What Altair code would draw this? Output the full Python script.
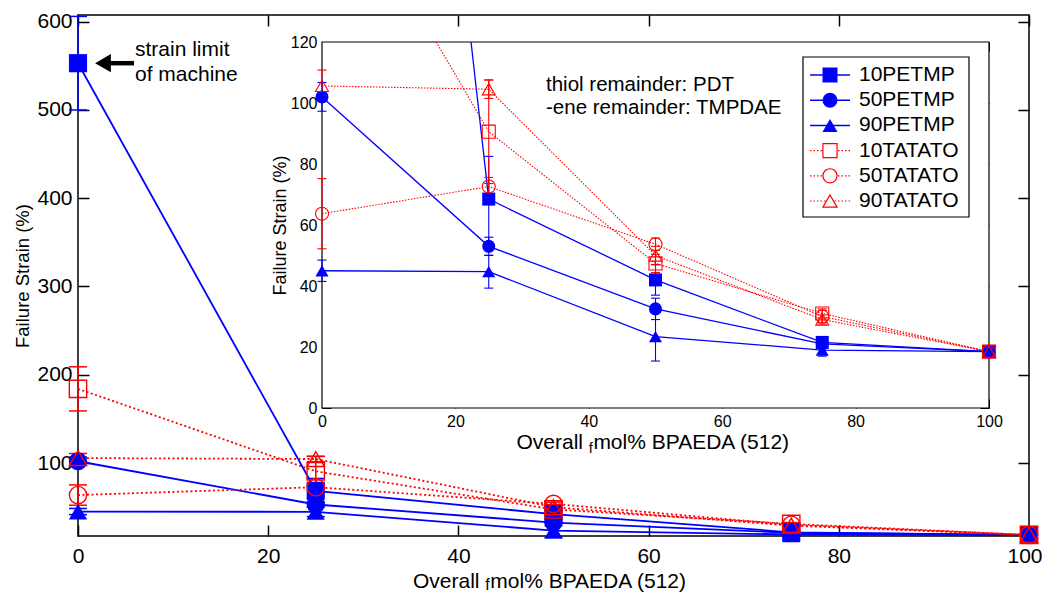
import altair as alt
import pandas as pd

# ---------------- data ----------------
x_vals = [0, 25, 50, 75, 100]
series_names = ["10PETMP", "50PETMP", "90PETMP", "10TATATO", "50TATATO", "90TATATO"]
series_group = ["PETMP", "PETMP", "PETMP", "TATATO", "TATATO", "TATATO"]
series_shape = ["square", "circle", "triangle-up", "square", "circle", "triangle-up"]

strain_10PETMP = [553, 68.5, 42, 21.5, 18.5]
strain_50PETMP = [102, 53, 32.5, 21, 18.5]
strain_90PETMP = [45, 44.7, 23.4, 19, 18.5]
strain_10TATATO = [184, 90.6, 47.4, 31, 18.5]
strain_50TATATO = [63.7, 72.6, 53.7, 30, 18.5]
strain_90TATATO = [105.6, 104.5, 50, 29, 18.5]

err_10PETMP = [53, 14, 5, 1.5, 1.5]
err_50PETMP = [4.7, 3, 3.5, 1.5, 1.5]
err_90PETMP = [3.5, 5.4, 8, 2, 1.5]
err_10TATATO = [25, 17, 3, 1.5, 1.5]
err_50TATATO = [11.5, 3, 2, 2, 1.5]
err_90TATATO = [5.2, 3, 3, 1.5, 1.5]

x_ticks = [0, 20, 40, 60, 80, 100]
main_y_ticks = [100, 200, 300, 400, 500, 600]
inset_y_ticks = [0, 20, 40, 60, 80, 100, 120]
x_domain = [0, 100]
main_y_domain = [17.3, 607.6]
inset_y_domain = [0, 120]

x_title_parts = ["Overall", "f", "mol% BPAEDA (512)"]   # "f" is a subscript
y_title = "Failure Strain (%)"
note_lines = ["thiol remainder: PDT", "-ene remainder: TMPDAE"]
arrow_lines = ["strain limit", "of machine"]

all_vals = [strain_10PETMP, strain_50PETMP, strain_90PETMP,
            strain_10TATATO, strain_50TATATO, strain_90TATATO]
all_errs = [err_10PETMP, err_50PETMP, err_90PETMP,
            err_10TATATO, err_50TATATO, err_90TATATO]

# ---------------- tables ----------------
rows = []
for s, g, vals, errs in zip(series_names, series_group, all_vals, all_errs):
    for xv, v, e in zip(x_vals, vals, errs):
        rows.append({"series": s, "grp": g, "x": xv, "val": v, "lo": v - e, "hi": v + e})
df = pd.DataFrame(rows)
df["hi_main"] = df["hi"].clip(upper=main_y_domain[1])

caps = []
for _, r in df.iterrows():
    caps.append({"series": r.series, "grp": r.grp, "x": r.x, "yc": r.lo, "base": r.val})
    caps.append({"series": r.series, "grp": r.grp, "x": r.x, "yc": r.hi, "base": r.val})
caps = pd.DataFrame(caps)
caps_main = caps[caps["yc"] <= main_y_domain[1]]
caps_in = caps[(caps["base"] <= inset_y_domain[1]) & (caps["yc"] <= inset_y_domain[1])]

df_in = df[df["val"] <= inset_y_domain[1]].copy()
df_in["hi_in"] = df_in["hi"].clip(upper=inset_y_domain[1])


def clip_poly(xs, ys, top):
    out = []
    for i in range(len(xs)):
        if ys[i] <= top:
            if i > 0 and ys[i - 1] > top:
                t = (ys[i - 1] - top) / (ys[i - 1] - ys[i])
                out.append((xs[i - 1] + t * (xs[i] - xs[i - 1]), top))
            out.append((xs[i], ys[i]))
        elif i > 0 and ys[i - 1] <= top:
            t = (top - ys[i - 1]) / (ys[i] - ys[i - 1])
            out.append((xs[i - 1] + t * (xs[i] - xs[i - 1]), top))
    return out


lrows = []
for s, g, vals in zip(series_names, series_group, all_vals):
    for xv, yv in clip_poly(x_vals, vals, inset_y_domain[1]):
        lrows.append({"series": s, "grp": g, "x": xv, "val": yv})
lines_in = pd.DataFrame(lrows)

legend_df = pd.DataFrame({"series": series_names, "grp": series_group,
                          "row": list(range(len(series_names)))})
box_df = pd.DataFrame({"x0": [x_domain[0]], "x1": [x_domain[1]],
                       "y0": [inset_y_domain[0]], "y1": [inset_y_domain[1]]})
anchor_df = df[(df["series"] == "10PETMP") & (df["x"] == x_vals[0])]
dummy = pd.DataFrame({"a": [0]})

# ---------------- styling ----------------
FONT = "Liberation Sans"
BLUE = "#0000ff"
RED = "#ff0000"
W, H = 951, 521

MX = alt.Scale(domain=x_domain, range=[0, W], nice=False, zero=False)
MY = alt.Scale(domain=main_y_domain, range=[H, 0], nice=False, zero=False)
IX = alt.Scale(domain=x_domain, range=[244, 911], nice=False, zero=False)
IY = alt.Scale(domain=inset_y_domain, range=[393, 27], nice=False, zero=False)
LY = alt.Scale(domain=[0, 5], range=[60, 186], nice=False, zero=False)
color_scale = alt.Scale(domain=["PETMP", "TATATO"], range=[BLUE, RED])
shape_scale = alt.Scale(domain=series_names, range=series_shape)


def tick_axis(orient, offset, size, values, width):
    return alt.Axis(orient=orient, offset=offset, tickSize=size, values=values,
                    labels=False, domain=False, title=None, ticks=True,
                    tickColor="black", tickWidth=width, grid=False)


last_x = x_ticks[-1]
main_x_axis = alt.Axis(orient="bottom", values=x_ticks, ticks=False, domain=False,
                       labelFontSize=21, labelPadding=9, labelFlush=False,
                       labelAlign=alt.condition(f"datum.value == {last_x}",
                                                alt.value("right"), alt.value("center")),
                       labelOffset=alt.condition(f"datum.value == {last_x}",
                                                 alt.value(13), alt.value(0)),
                       title=None, grid=False)
main_y_axis = alt.Axis(orient="left", values=main_y_ticks, ticks=False, domain=False,
                       labelFontSize=21, labelPadding=6, labelFlush=False,
                       title=y_title, titleFontSize=18.5, titlePadding=4,
                       titleFontWeight="normal", grid=False)
inset_x_axis = alt.Axis(orient="bottom", offset=-(H - 393), values=x_ticks, ticks=False,
                        domain=False, labelFontSize=16, labelPadding=5, labelFlush=False,
                        title=None, grid=False)
inset_y_axis = alt.Axis(orient="left", offset=-244, values=inset_y_ticks, ticks=False,
                        domain=False, labelFontSize=16, labelPadding=5, labelFlush=False,
                        title=y_title, titleFontSize=18, titlePadding=1,
                        titleFontWeight="normal", grid=False)

def mx(field="x:Q", axis=None):
    return alt.X(field, scale=MX, axis=axis)

def my(field="val:Q", axis=None):
    return alt.Y(field, scale=MY, axis=axis)

def ix(field="x:Q", axis=None):
    return alt.X(field, scale=IX, axis=axis)

def iy(field="val:Q", axis=None):
    return alt.Y(field, scale=IY, axis=axis)

col = alt.Color("grp:N", scale=color_scale, legend=None)
shp = alt.Shape("series:N", scale=shape_scale, legend=None)

blue_df = df[df["grp"] == "PETMP"]
red_df = df[df["grp"] == "TATATO"]


def xtitle(left, base, big, small, small_drop):
    """Axis title with a subscript 'f', placed as three text pieces."""
    w_overall = 3.445 * big          # "Overall " width in Arial-metric em units
    w_f = 0.278 * small
    parts = []
    specs = [(x_title_parts[0], left, base, big),
             (x_title_parts[1], left + w_overall, base + small_drop, small),
             (x_title_parts[2], left + w_overall + w_f + 0.5, base, big)]
    for txt, xx, yy, fs in specs:
        parts.append(alt.Chart(dummy).mark_text(text=txt, align="left", baseline="alphabetic",
                                                font=FONT, fontSize=fs, color="black").encode(
            x=alt.value(xx), y=alt.value(yy)))
    return parts


# ---------------- main plot ----------------
main_lines_blue = alt.Chart(blue_df).mark_line(color=BLUE, strokeWidth=1.8).encode(
    x=mx(axis=main_x_axis), y=my(axis=main_y_axis), detail="series:N")
main_lines_red = alt.Chart(red_df).mark_line(color=RED, strokeWidth=1.8, strokeDash=[2, 2.5]).encode(
    x=mx(), y=my(), detail="series:N")
main_err = alt.Chart(df).mark_rule(strokeWidth=1.5).encode(
    x=mx(), y=my("lo:Q"), y2="hi_main:Q", color=col)
main_caps = alt.Chart(caps_main).mark_rule(strokeWidth=1.5, xOffset=-9, x2Offset=9).encode(
    x=mx(), x2="x:Q", y=my("yc:Q"), color=col)
main_pts_blue = alt.Chart(blue_df).mark_point(filled=True, size=330, opacity=1, color=BLUE).encode(
    x=mx(), y=my(), shape=shp)
main_pts_red = alt.Chart(red_df).mark_point(filled=False, size=300, opacity=1, strokeWidth=1.4,
                                            color=RED).encode(x=mx(), y=my(), shape=shp)
main_ticks_a = alt.Chart(df).mark_point(opacity=0).encode(
    x=mx(axis=tick_axis("bottom", -11, 11, x_ticks, 1.5)),
    y=my(axis=tick_axis("left", -11, 11, main_y_ticks, 1.5)))
main_ticks_b = alt.Chart(df).mark_point(opacity=0).encode(
    x=mx(axis=tick_axis("top", -11, 11, x_ticks, 1.5)),
    y=my(axis=tick_axis("right", -11, 11, main_y_ticks, 1.5)))

arrow_shaft = alt.Chart(anchor_df).mark_rule(color="black", strokeWidth=4.5, xOffset=31, x2Offset=56).encode(
    x=mx(), x2="x:Q", y=my())
arrow_head = alt.Chart(anchor_df).mark_point(shape="triangle-left", filled=True, color="black",
                                             size=330, opacity=1, xOffset=25).encode(x=mx(), y=my())
arrow_t1 = alt.Chart(anchor_df).mark_text(text=arrow_lines[0], align="left", baseline="middle",
                                          font=FONT, fontSize=21, dx=57, dy=-13, color="black").encode(x=mx(), y=my())
arrow_t2 = alt.Chart(anchor_df).mark_text(text=arrow_lines[1], align="left", baseline="middle",
                                          font=FONT, fontSize=21, dx=57, dy=12, color="black").encode(x=mx(), y=my())

main_title = xtitle(335, 572.5, 21, 16, 2.5)

# ---------------- inset ----------------
inset_box = alt.Chart(box_df).mark_rect(fill="white", stroke="black", strokeWidth=1.2).encode(
    x=ix("x0:Q", axis=inset_x_axis), x2="x1:Q", y=iy("y0:Q", axis=inset_y_axis), y2="y1:Q")
inset_ticks_a = alt.Chart(df_in).mark_point(opacity=0).encode(
    x=ix(axis=tick_axis("bottom", -(H - 393) - 9, 9, x_ticks, 1)),
    y=iy(axis=tick_axis("left", -(244 + 9), 9, inset_y_ticks, 1)))
inset_ticks_b = alt.Chart(df_in).mark_point(opacity=0).encode(
    x=ix(axis=tick_axis("top", -(27 + 9), 9, x_ticks, 1)),
    y=iy(axis=tick_axis("right", (911 - 9) - W, 9, inset_y_ticks, 1)))

in_lines_blue = alt.Chart(lines_in[lines_in["grp"] == "PETMP"]).mark_line(
    color=BLUE, strokeWidth=1.3).encode(x=ix(), y=iy(), detail="series:N")
in_lines_red = alt.Chart(lines_in[lines_in["grp"] == "TATATO"]).mark_line(
    color=RED, strokeWidth=1.1, strokeDash=[1.5, 1.5]).encode(x=ix(), y=iy(), detail="series:N")
in_err = alt.Chart(df_in).mark_rule(strokeWidth=1.1).encode(
    x=ix(), y=iy("lo:Q"), y2="hi_in:Q", color=col)
in_caps = alt.Chart(caps_in).mark_rule(strokeWidth=1.1, xOffset=-4.5, x2Offset=4.5).encode(
    x=ix(), x2="x:Q", y=iy("yc:Q"), color=col)
in_pts_blue = alt.Chart(df_in[df_in["grp"] == "PETMP"]).mark_point(
    filled=True, size=170, opacity=1, color=BLUE).encode(x=ix(), y=iy(), shape=shp)
in_pts_red = alt.Chart(df_in[df_in["grp"] == "TATATO"]).mark_point(
    filled=False, size=170, opacity=1, strokeWidth=1.1, color=RED).encode(x=ix(), y=iy(), shape=shp)

inset_title = xtitle(438.5, 434, 21, 14.5, 3.5)

notes1 = alt.Chart(dummy).mark_text(text=note_lines[0], align="left", baseline="middle", font=FONT,
                                    fontSize=20.5, color="black").encode(x=alt.value(468), y=alt.value(70))
notes2 = alt.Chart(dummy).mark_text(text=note_lines[1], align="left", baseline="middle", font=FONT,
                                    fontSize=20.5, color="black").encode(x=alt.value(468), y=alt.value(93))

# ---------------- legend ----------------
leg_box = alt.Chart(dummy).mark_rect(fill="white", stroke="black", strokeWidth=1.2).encode(
    x=alt.value(725), x2=alt.value(891), y=alt.value(42), y2=alt.value(202))
leg_line_blue = alt.Chart(legend_df[legend_df["grp"] == "PETMP"]).mark_rule(
    color=BLUE, strokeWidth=1.5).encode(x=alt.value(732), x2=alt.value(772),
                                        y=alt.Y("row:Q", scale=LY, axis=None))
leg_line_red = alt.Chart(legend_df[legend_df["grp"] == "TATATO"]).mark_rule(
    color=RED, strokeWidth=1.2, strokeDash=[1.5, 2]).encode(x=alt.value(732), x2=alt.value(772),
                                                          y=alt.Y("row:Q", scale=LY, axis=None))
leg_pts_blue = alt.Chart(legend_df[legend_df["grp"] == "PETMP"]).mark_point(
    filled=True, size=225, opacity=1, color=BLUE).encode(
    x=alt.value(752), y=alt.Y("row:Q", scale=LY, axis=None), shape=shp)
leg_pts_red = alt.Chart(legend_df[legend_df["grp"] == "TATATO"]).mark_point(
    filled=False, size=200, opacity=1, strokeWidth=1.2, fill="white", color=RED).encode(
    x=alt.value(752), y=alt.Y("row:Q", scale=LY, axis=None), shape=shp)
leg_text = alt.Chart(legend_df).mark_text(align="left", baseline="middle", font=FONT,
                                          fontSize=21, color="black").encode(
    x=alt.value(781), y=alt.Y("row:Q", scale=LY, axis=None), text="series:N")

chart = alt.layer(
    main_ticks_a, main_ticks_b,
    main_lines_blue, main_lines_red, main_err, main_caps, main_pts_blue, main_pts_red,
    arrow_shaft, arrow_head, arrow_t1, arrow_t2, *main_title,
    inset_box, inset_ticks_a, inset_ticks_b,
    in_lines_blue, in_lines_red, in_err, in_caps, in_pts_blue, in_pts_red, *inset_title,
    notes1, notes2,
    leg_box, leg_line_blue, leg_line_red, leg_pts_blue, leg_pts_red, leg_text,
).resolve_scale(
    x="independent", y="independent"
).properties(
    width=W, height=H,
    autosize=alt.AutoSizeParams(type="none"),
    padding={"left": 70, "top": 7, "right": 13, "bottom": 59},
    background="white",
).configure_view(
    stroke="black", strokeWidth=1.5
).configure_axis(
    labelFont=FONT, titleFont=FONT, labelColor="black", titleColor="black", grid=False
)

chart.save("out.html", embed_options={"renderer": "svg", "actions": False})
